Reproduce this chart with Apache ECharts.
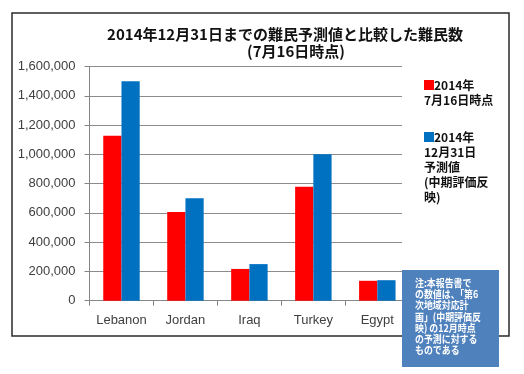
<!DOCTYPE html>
<html>
<head>
<meta charset="utf-8">
<script src="https://cdn.jsdelivr.net/npm/echarts@6/dist/echarts.min.js"></script>
<style>
html,body{margin:0;padding:0;background:#fff;}
#chart{width:524px;height:374px;}
</style>
</head>
<body>
<div id="chart"></div>
<script>
// Data
var categories = ['Lebanon', 'Jordan', 'Iraq', 'Turkey', 'Egypt'];
var seriesNames = ['2014年\n7月16日時点', '2014年\n12月31日\n予測値\n(中期評価反\n映)'];
var asOfJuly16 = [1127000, 606000, 217000, 779000, 136000];
var projectedDec31 = [1500000, 700000, 250000, 1000000, 140000];
var yTicks = { min: 0, max: 1600000, interval: 200000 };
var titleLine1 = '2014年12月31日までの難民予測値と比較した難民数';
var titleLine2 = '(7月16日時点)';
var noteLines = ['注:本報告書で', 'の数値は、「第6', '次地域対応計', '画」(中期評価反', '映) の12月時点', 'の予測に対する', 'ものである'];

var chart = echarts.init(document.getElementById('chart'), null, {renderer: 'canvas'});
var cjk = '"Noto Sans CJK JP", "Noto Sans", sans-serif';
var lat = '"Liberation Sans", Arial, sans-serif';

function legendFormatter(name) {
  var lines = name.split('\n');
  var sq = name === seriesNames[0] ? 'sqR' : 'sqB';
  return lines.map(function (l, i) {
    return (i === 0 ? '{' + sq + '|}' : '') + '{t|' + l + '}';
  }).join('\n');
}

var option = {
  animation: false,
  backgroundColor: '#fff',
  title: [
    { text: titleLine1, left: 280, top: 21, textAlign: 'center',
      textStyle: { fontFamily: cjk, fontSize: 15, fontWeight: 'bold', color: '#111', lineHeight: 17 } },
    { text: titleLine2, left: 291, top: 38, textAlign: 'center',
      textStyle: { fontFamily: cjk, fontSize: 15, fontWeight: 'bold', color: '#111', lineHeight: 17 } }
  ],
  legend: {
    orient: 'vertical',
    left: 414,
    top: 74,
    itemGap: 25,
    icon: 'none',
    itemWidth: 0,
    itemHeight: 0,
    selectedMode: false,
    data: seriesNames,
    formatter: legendFormatter,
    textStyle: {
      padding: 0,
      rich: {
        sqR: { width: 10, height: 10, backgroundColor: '#FF0000', padding: 0 },
        sqB: { width: 10, height: 10, backgroundColor: '#0070C0', padding: 0 },
        t: { fontFamily: cjk, fontSize: 12, fontWeight: 'bold', color: '#111', lineHeight: 15 }
      }
    }
  },
  grid: { left: 89.5, top: 66.5, right: 114.7, bottom: 73.3, containLabel: false },
  xAxis: {
    type: 'category',
    data: categories,
    axisLine: { lineStyle: { color: '#868686', width: 1 } },
    axisTick: { show: true, alignWithLabel: false, length: 5, lineStyle: { color: '#868686' } },
    axisLabel: { interval: 0, margin: 13, fontFamily: lat, fontSize: 13, color: '#404040' }
  },
  yAxis: {
    type: 'value',
    min: yTicks.min,
    max: yTicks.max,
    interval: yTicks.interval,
    axisLine: { show: true, lineStyle: { color: '#868686', width: 1 } },
    axisTick: { show: true, length: 5, lineStyle: { color: '#868686' } },
    splitLine: { show: true, lineStyle: { color: '#8c8c8c', width: 1 } },
    axisLabel: {
      margin: 14, fontFamily: lat, fontSize: 13, color: '#404040',
      formatter: function (v) { return v.toLocaleString('en-US'); }
    }
  },
  series: [
    { name: seriesNames[0], type: 'bar', data: asOfJuly16, itemStyle: { color: '#FF0000' },
      barGap: '0%', barCategoryGap: '43%' },
    { name: seriesNames[1], type: 'bar', data: projectedDec31, itemStyle: { color: '#0070C0' },
      barGap: '0%', barCategoryGap: '43%' }
  ],
  graphic: [
    { type: 'rect', z: 1, silent: true,
      shape: { x: 12, y: 13, width: 497, height: 323 },
      style: { fill: 'none', stroke: '#2b2b2b', lineWidth: 1.5 } },
    { type: 'rect', z: 3, silent: true,
      shape: { x: 402, y: 60, width: 10, height: 242 },
      style: { fill: '#fff' } },
    { type: 'rect', z: 10, silent: true,
      shape: { x: 402, y: 270, width: 97, height: 97 },
      style: { fill: '#4F81BD' } },
    { type: 'group', z: 11, silent: true, x: 415, y: 277.5, scaleX: 0.85, scaleY: 1,
      children: [
        { type: 'text', z: 11, silent: true, x: 0, y: 0,
          style: { text: noteLines.join('\n'), fill: '#fff', fontFamily: cjk, fontSize: 10.5, fontWeight: 'bold', lineHeight: 11.2 } }
      ] }
  ]
};
chart.setOption(option);
</script>
</body>
</html>
